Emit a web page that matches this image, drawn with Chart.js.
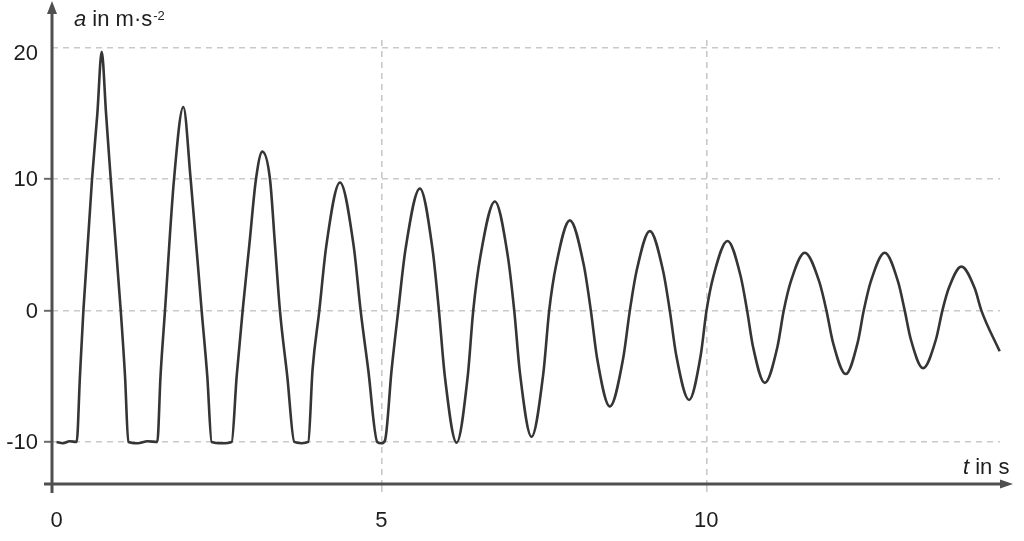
<!DOCTYPE html>
<html>
<head>
<meta charset="utf-8">
<script src="https://cdn.jsdelivr.net/npm/chart.js@4/dist/chart.umd.min.js"></script>
<style>
  html, body { margin: 0; padding: 0; background: #fff; }
  #wrap { width: 1024px; height: 541px; position: relative; }
</style>
</head>
<body>
<div id="wrap"><canvas id="c"></canvas></div>
<script>
// time in s (read / estimated from the picture)
const tValues = [
  0.00, 0.10, 0.20, 0.31, 0.36, 0.413, 0.546, 0.628, 0.695, 0.762, 0.834, 0.988, 1.054, 1.105,
  1.25, 1.40, 1.551, 1.60, 1.669, 1.808, 1.951, 2.064, 2.233, 2.32, 2.387,
  2.55, 2.695, 2.772, 2.864, 2.967, 3.069, 3.167, 3.285, 3.362, 3.438, 3.551, 3.659,
  3.77, 3.874, 3.94, 4.044, 4.15, 4.362, 4.574, 4.68, 4.797, 4.936,
  5.00, 5.054, 5.157, 5.259, 5.37, 5.592, 5.787, 5.885, 5.976, 6.157,
  6.328, 6.413, 6.524, 6.746, 6.945, 7.044, 7.133, 7.31,
  7.491, 7.582, 7.688, 7.90, 8.115, 8.223, 8.32, 8.515,
  8.72, 8.823, 8.926, 9.131, 9.336, 9.438, 9.537, 9.735,
  9.914, 10.003, 10.111, 10.326, 10.527, 10.628, 10.719, 10.90,
  11.095, 11.192, 11.30, 11.515, 11.738, 11.849, 11.948, 12.146,
  12.331, 12.423, 12.531, 12.746, 12.951, 13.054, 13.148, 13.336,
  13.534, 13.633, 13.731, 13.926, 14.131, 14.234, 14.515
];
// acceleration in m/s^2 (read / estimated from the picture)
const aValues = [
  -10.0, -10.1, -9.95, -10.0, -5.0, 0, 10, 15, 19.7, 15, 10, 0, -5, -10.0,
  -10.1, -9.95, -10.0, -5, 0, 10, 15.5, 10, 0, -5, -10,
  -10.1, -10.0, -5, 0, 5, 10, 12.1, 10, 5, 0, -5, -10,
  -10.1, -10.0, -4.5, 0, 4.875, 9.75, 4.875, 0, -4.5, -10.0,
  -10.1, -9.9, -4.5, 0, 4.65, 9.3, 4.65, 0, -5.0, -10.05,
  -5.0, 0, 4.15, 8.3, 4.15, 0, -4.8, -9.6,
  -4.8, 0, 3.45, 6.87, 3.45, 0, -3.65, -7.3,
  -3.65, 0, 3.0, 6.05, 3.0, 0, -3.4, -6.8,
  -3.4, 0, 2.65, 5.3, 2.65, 0, -2.75, -5.5,
  -2.75, 0, 2.2, 4.4, 2.2, 0, -2.4, -4.83,
  -2.4, 0, 2.2, 4.4, 2.2, 0, -2.2, -4.38,
  -2.2, 0, 1.7, 3.35, 1.7, 0, -3.1
];
const xTicks = [0, 5, 10];
const yTicks = [-10, 0, 10, 20];
const yAxisTitle = { ital: 'a', rest: ' in m·s', sup: '-2' };
const xAxisTitle = { ital: 't', rest: ' in s' };

const FONT = '"Liberation Sans", Arial, sans-serif';
const AXIS = '#4f4f4f';
const GRID = '#c9c9c9';
const TEXT = '#1e1e1e';

const axesPlugin = {
  id: 'axesPlugin',
  afterDatasetsDraw(chart) {
    const ctx = chart.ctx;
    const ys = chart.scales.y;
    const x0 = chart.chartArea.left;
    const yb = chart.chartArea.bottom;
    ctx.save();
    ctx.strokeStyle = AXIS;
    ctx.fillStyle = AXIS;
    ctx.lineWidth = 3;
    // y axis with arrow
    ctx.beginPath();
    ctx.moveTo(x0, yb + 9);
    ctx.lineTo(x0, 12);
    ctx.stroke();
    ctx.beginPath();
    ctx.moveTo(x0, 1);
    ctx.lineTo(x0 - 5, 14);
    ctx.lineTo(x0 + 5, 14);
    ctx.closePath();
    ctx.fill();
    // x axis with arrow
    ctx.beginPath();
    ctx.moveTo(x0 - 8, yb);
    ctx.lineTo(1002, yb);
    ctx.stroke();
    ctx.beginPath();
    ctx.moveTo(1013, yb);
    ctx.lineTo(1000, yb - 4.5);
    ctx.lineTo(1000, yb + 4.5);
    ctx.closePath();
    ctx.fill();

    // y tick labels (top one sits just below its grid line, as in the original)
    ctx.fillStyle = TEXT;
    ctx.font = '22px ' + FONT;
    ctx.textAlign = 'right';
    ctx.textBaseline = 'middle';
    yTicks.forEach((v) => {
      const py = ys.getPixelForValue(v);
      const off = (v === yTicks[yTicks.length - 1]) ? 6 : 1;
      ctx.fillText(String(v), x0 - 14, py + off);
    });

    // axis titles
    ctx.textBaseline = 'alphabetic';
    ctx.textAlign = 'left';
    let x = 74, y = 26;
    ctx.font = 'italic 22px ' + FONT;
    ctx.fillText(yAxisTitle.ital, x, y);
    x += ctx.measureText(yAxisTitle.ital).width;
    ctx.font = '22px ' + FONT;
    ctx.fillText(yAxisTitle.rest, x, y);
    x += ctx.measureText(yAxisTitle.rest).width + 1;
    ctx.font = '13px ' + FONT;
    ctx.fillText(yAxisTitle.sup, x, 20);

    x = 963; y = 474;
    ctx.font = 'italic 22px ' + FONT;
    ctx.fillText(xAxisTitle.ital, x, y);
    x += ctx.measureText(xAxisTitle.ital).width;
    ctx.font = '22px ' + FONT;
    ctx.fillText(xAxisTitle.rest, x, y);
    ctx.restore();
  }
};

const points = tValues.map((t, i) => ({ x: t, y: aValues[i] }));

new Chart(document.getElementById('c'), {
  type: 'line',
  data: {
    datasets: [{
      data: points,
      borderColor: '#353535',
      borderWidth: 2.6,
      pointRadius: 0,
      cubicInterpolationMode: 'monotone',
      fill: false,
      clip: false
    }]
  },
  options: {
    responsive: true,
    maintainAspectRatio: false,
    animation: false,
    events: [],
    layout: { padding: { top: 40, right: 24, left: 0, bottom: 0 } },
    plugins: { legend: { display: false }, tooltip: { enabled: false }, title: { display: false } },
    scales: {
      x: {
        type: 'linear',
        min: -0.07,
        max: 14.52,
        afterBuildTicks: (scale) => { scale.ticks = xTicks.map(v => ({ value: v })); },
        afterFit: (scale) => { scale.height = 57; },
        border: { display: false, dash: [6, 5] },
        grid: {
          color: (c) => (c.tick && c.tick.value === 0) ? 'rgba(0,0,0,0)' : GRID,
          lineWidth: 1.6,
          drawTicks: true,
          tickLength: 8,
          tickColor: (c) => (c.tick && c.tick.value === 0) ? 'rgba(0,0,0,0)' : GRID,
          tickWidth: 1.6
        },
        ticks: {
          color: TEXT,
          font: { family: FONT, size: 22 },
          padding: 16,
          maxRotation: 0,
          callback: (v) => String(v)
        }
      },
      y: {
        type: 'linear',
        min: -13.2,
        max: 20.6,
        afterBuildTicks: (scale) => { scale.ticks = yTicks.map(v => ({ value: v })); },
        afterFit: (scale) => { scale.width = 52; },
        border: { display: false, dash: [6, 5] },
        grid: {
          color: GRID,
          lineWidth: 1.6,
          drawTicks: true,
          tickLength: 8,
          tickColor: (c) => (c.tick && c.tick.value === 20) ? 'rgba(0,0,0,0)' : '#6a6a6a',
          tickWidth: 2
        },
        ticks: {
          display: false
        }
      }
    }
  },
  plugins: [axesPlugin]
});
</script>
</body>
</html>
